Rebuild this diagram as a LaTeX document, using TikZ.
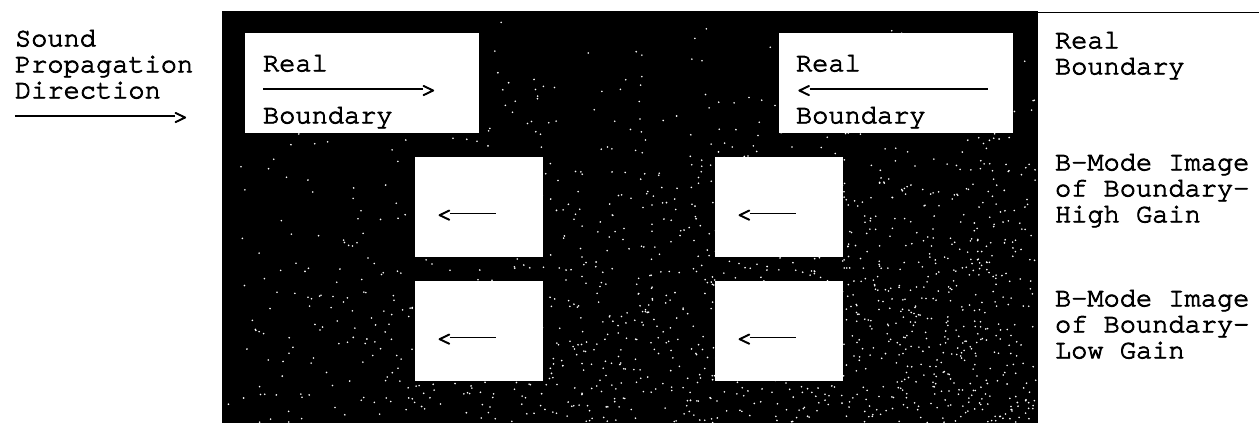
\documentclass[tikz,border=0pt]{standalone}
\usepackage{fontspec}
\newfontfamily\typewriter{TeX Gyre Cursor}[FakeBold = 3]
\usetikzlibrary{positioning}
\tikzset{
every node/.style = {font = {\typewriter\fontsize{13.5}{13}\selectfont},
   inner sep = 0pt, outer sep = 0pt},
realbox/.style = {rectangle, fill = white, minimum width = 117pt,
   minimum height = 50pt},
imagebox/.style = {rectangle, fill = white, minimum width = 64pt,
   minimum height = 50pt},
caption/.style = {anchor = north west, align = left},
speckle/.style = {white}
}
\newcommand{\rightarr}[1]{\rule[.28em]{#1}{.8pt}\kern-.1em>}
\newcommand{\leftarr}[1]{<\kern-.1em\rule[.28em]{#1}{.8pt}}

\begin{document}
\begin{tikzpicture}[x = 0.5pt, y = -0.5pt]
\useasboundingbox (0,0) rectangle (1259,423);

%% Scan background
\fill (222,11) rectangle (1038,423);
\draw [line width = 0.9pt] (1038,12.5) -- (1259,12.5);
\pgfmathsetseed{11}
\foreach \i in {1,...,1600}
  \fill [speckle] ({222+816*rnd^0.6},{11+412*rnd^0.5}) circle (0.45pt);

%% Real boundary
\node [realbox] (real1) at (362,83) {};
\node [realbox] (real2) at (896,83) {};
\node [caption] (t1) at (263,55) {Real\\\rightarr{80pt}\\Boundary};
\node [caption] (t2) at (796,55) {Real\\\leftarr{89pt}\\Boundary};

%% B-mode images
\node [imagebox] (hi1) at (479,207) {};
\node [imagebox] (lo1) [below = 12pt of hi1] {};
\node [imagebox] (hi2) [right = 86pt of hi1] {};
\node [imagebox] (lo2) [below = 12pt of hi2] {};

\node (a1) [xshift = -6.5pt, yshift = -4.5pt] at (hi1) {\leftarr{23pt}};
\node (a2) [xshift = -6.5pt, yshift = -4.5pt] at (lo1) {\leftarr{23pt}};
\node (a3) [xshift = -6.5pt, yshift = -4.5pt] at (hi2) {\leftarr{23pt}};
\node (a4) [xshift = -6.5pt, yshift = -4.5pt] at (lo2) {\leftarr{23pt}};

%% Captions
\node [caption] (sound) at (15,30) {Sound\\Propagation\\Direction\\\rightarr{80pt}};
\node [caption] (lreal) at (1055,32) {Real\\Boundary};
\node [caption] (lhigh) at (1055,154) {B-Mode Image\\of Boundary-\\High Gain};
\node [caption] (llow) at (1055,290) {B-Mode Image\\of Boundary-\\Low Gain};

\end{tikzpicture}
\end{document}
